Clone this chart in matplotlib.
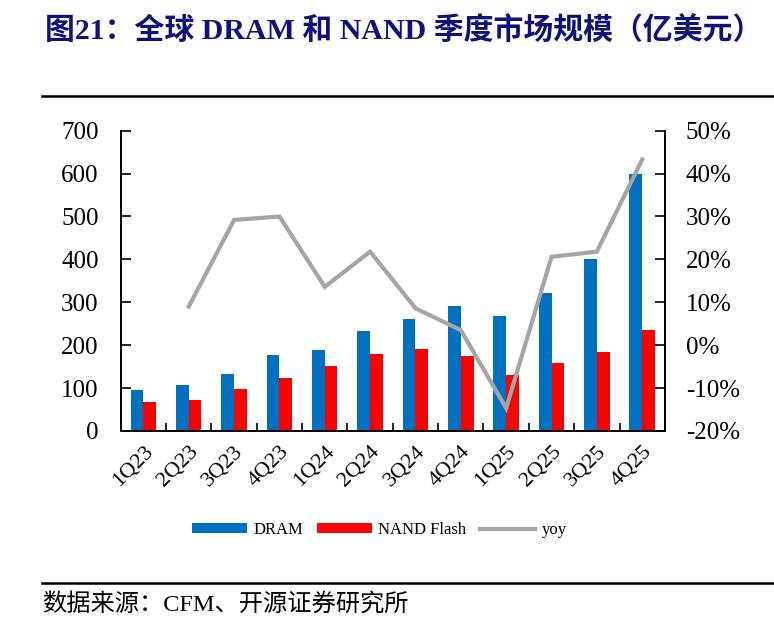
import matplotlib

matplotlib.use("Agg")
import matplotlib.pyplot as plt
import numpy as np
from matplotlib.lines import Line2D
from matplotlib.ticker import FuncFormatter, MultipleLocator

QUARTERS = ["1Q23", "2Q23", "3Q23", "4Q23", "1Q24", "2Q24",
            "3Q24", "4Q24", "1Q25", "2Q25", "3Q25", "4Q25"]
DRAM = [96, 107, 132, 177, 189, 234, 260, 292, 267, 322, 400, 600]
NAND = [67, 71, 98, 123, 152, 180, 190, 174, 130, 158, 184, 236]
# yoy in %, first quarter has no value
YOY = [np.nan, 9.0, 29.2, 30.0, 13.6, 21.8, 8.6, 3.5, -14.7, 20.6, 21.8, 43.3]

TITLE = "图21：全球 DRAM 和 NAND 季度市场规模（亿美元）"
SOURCE = "数据来源：CFM、开源证券研究所"

BLUE = "#0070C0"
RED = "#FF0000"
GRAY = "#A5A5A5"
NAVY = "#10107A"

SERIF = ["Liberation Serif", "Noto Sans CJK SC"]
plt.rcParams["font.family"] = SERIF


def main() -> None:
    fig = plt.figure(figsize=(7.74, 6.3), dpi=100)
    ax = fig.add_axes([0.156, 0.316, 0.703, 0.4765])
    ax2 = ax.twinx()

    x = np.arange(len(QUARTERS))
    width = 0.28
    ax.bar(x - width / 2, DRAM, width, color=BLUE, label="DRAM", zorder=2)
    ax.bar(x + width / 2, NAND, width, color=RED, label="NAND Flash", zorder=2)
    ax2.plot(x, np.array(YOY) / 100, color=GRAY, linewidth=3, label="yoy",
             solid_joinstyle="miter")

    ax.set_xlim(-0.5, len(QUARTERS) - 0.5)
    ax.set_ylim(0, 700)
    ax.yaxis.set_major_locator(MultipleLocator(100))
    ax2.set_ylim(-0.2, 0.5)
    ax2.yaxis.set_major_locator(MultipleLocator(0.1))
    ax2.yaxis.set_major_formatter(FuncFormatter(lambda v, _: f"{v * 100:.0f}%"))

    ax.set_xticks(x)
    ax.set_xticklabels(QUARTERS, rotation=45, ha="right", va="top",
                       rotation_mode="anchor")
    ax.set_xticks(np.arange(0.5, len(QUARTERS) - 0.5), minor=True)
    ax.tick_params(axis="x", which="major", length=0, labelsize=16, pad=8)
    ax.tick_params(axis="x", which="minor", direction="in", length=6, width=1.2)
    ax.tick_params(axis="y", direction="in", length=7, width=1.2, labelsize=18, pad=16)
    ax2.tick_params(axis="y", direction="in", length=7, width=1.2, labelsize=18, pad=15)

    for a in (ax, ax2):
        a.spines["top"].set_visible(False)
        for side in ("left", "right", "bottom"):
            a.spines[side].set_linewidth(1.3)

    handles = ax.get_legend_handles_labels()[0] + ax2.get_legend_handles_labels()[0]
    labels = ["DRAM", "NAND Flash", "yoy"]
    fig.legend(handles, labels, loc="center", bbox_to_anchor=(0.49, 1 - 530 / 630),
               ncol=3, frameon=False, fontsize=12, handlelength=3.3,
               handleheight=0.5, handletextpad=0.4, columnspacing=0.8)

    fig.text(0.058, 1 - 30 / 630, TITLE, fontsize=21.5, fontweight="bold",
             color=NAVY, ha="left", va="center")
    fig.text(0.055, 1 - 605 / 630, SOURCE, fontsize=17.5, color="black",
             ha="left", va="center")

    fig.add_artist(Line2D([42 / 774, 1], [1 - 96 / 630] * 2, color="black", linewidth=1.8))
    fig.add_artist(Line2D([42 / 774, 1], [1 - 583 / 630] * 2, color="black", linewidth=1.8))

    fig.savefig("out.png", dpi=100)
    plt.close(fig)


if __name__ == "__main__":
    main()
